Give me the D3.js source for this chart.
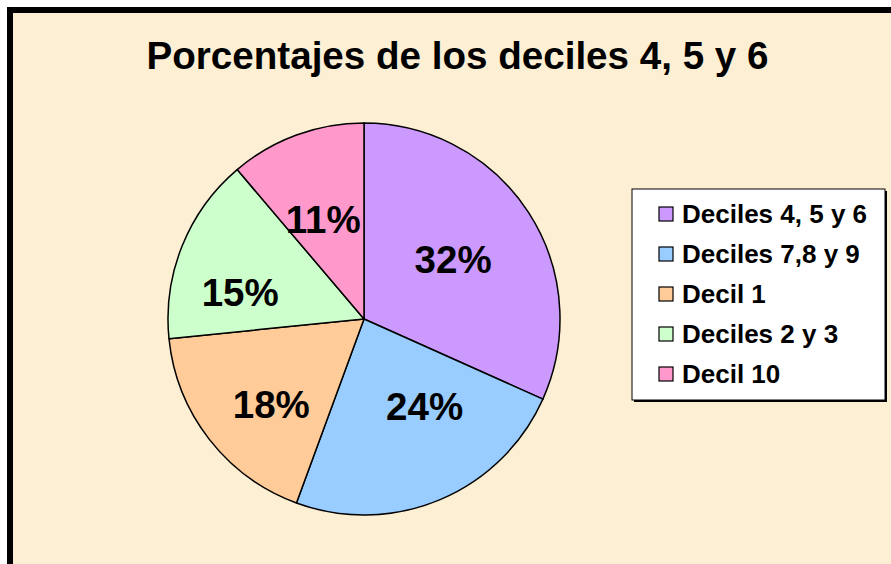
<!DOCTYPE html>
<html>
<head>
<meta charset="utf-8">
<script src="https://cdn.jsdelivr.net/npm/d3@7"></script>
<style>
  body { margin: 0; background: #fff; }
  svg { display: block; font-family: Arial, "Liberation Sans", sans-serif; }
</style>
</head>
<body>
<div id="chart"></div>
<script>
// slice values (percent)
var categories = ["Deciles 4, 5 y 6", "Deciles 7,8 y 9", "Decil 1", "Deciles 2 y 3", "Decil 10"];
var values = [31.7, 23.9, 17.8, 15.4, 11.2];
var colors = ["#CC99FF", "#99CCFF", "#FFCC99", "#CCFFCC", "#FF99CC"];
// small nudges so the labels sit where the original put them
var labelNudge = [[-3, 0], [18, -14], [-6, 18], [-22, 14], [-3, 3]];

var svgWidth = 891, svgHeight = 564;
var cx = 364, cy = 319, radius = 196;

var svg = d3.select("#chart").append("svg")
    .attr("width", svgWidth)
    .attr("height", svgHeight);

// chart area with thick black frame (right / bottom run off the picture)
svg.append("rect")
    .attr("x", 10).attr("y", 10)
    .attr("width", 920).attr("height", 620)
    .attr("fill", "#FCEFD4")
    .attr("stroke", "#000")
    .attr("stroke-width", 6);

svg.append("text")
    .attr("x", 457.5)
    .attr("y", 69)
    .attr("text-anchor", "middle")
    .attr("font-size", "38.6px")
    .attr("font-weight", "bold")
    .text("Porcentajes de los deciles 4, 5 y 6");

var color = d3.scaleOrdinal()
    .domain(categories)
    .range(colors);

var pie = d3.pie()
    .sort(null)
    .value(function(d, i) { return values[i]; });

var arcs = pie(categories);

var arc = d3.arc()
    .innerRadius(0)
    .outerRadius(radius);

var labelArc = d3.arc()
    .innerRadius(radius * 0.56)
    .outerRadius(radius * 0.56);

var g = svg.append("g")
    .attr("transform", "translate(" + cx + "," + cy + ")");

g.selectAll("path.slice")
    .data(arcs)
    .enter().append("path")
    .attr("class", "slice")
    .attr("d", arc)
    .attr("fill", function(d) { return color(d.data); })
    .attr("stroke", "#000")
    .attr("stroke-width", 1.5)
    .attr("stroke-linejoin", "round");

g.selectAll("text.pct")
    .data(arcs)
    .enter().append("text")
    .attr("class", "pct")
    .attr("transform", function(d, i) {
        var c = labelArc.centroid(d);
        return "translate(" + (c[0] + labelNudge[i][0]) + "," + (c[1] + labelNudge[i][1]) + ")";
    })
    .attr("text-anchor", "middle")
    .attr("dy", "0.36em")
    .attr("font-size", "38.5px")
    .attr("font-weight", "bold")
    .text(function(d) { return Math.round(d.value) + "%"; });

// legend
var legend = svg.append("g").attr("transform", "translate(632,189)");

legend.append("rect")
    .attr("x", 2).attr("y", 2)
    .attr("width", 253).attr("height", 211)
    .attr("fill", "#000");

legend.append("rect")
    .attr("x", 0).attr("y", 0)
    .attr("width", 253).attr("height", 211)
    .attr("fill", "#fff")
    .attr("stroke", "#000")
    .attr("stroke-width", 1);

var item = legend.selectAll("g.item")
    .data(categories)
    .enter().append("g")
    .attr("class", "item")
    .attr("transform", function(d, i) { return "translate(0," + (25 + i * 40) + ")"; });

item.append("rect")
    .attr("x", 27).attr("y", -7)
    .attr("width", 14).attr("height", 14)
    .attr("fill", function(d) { return color(d); })
    .attr("stroke", "#000")
    .attr("stroke-width", 1.2);

item.append("text")
    .attr("x", 50)
    .attr("dy", "0.36em")
    .attr("font-size", "26px")
    .attr("font-weight", "bold")
    .text(function(d) { return d; });
</script>
</body>
</html>
